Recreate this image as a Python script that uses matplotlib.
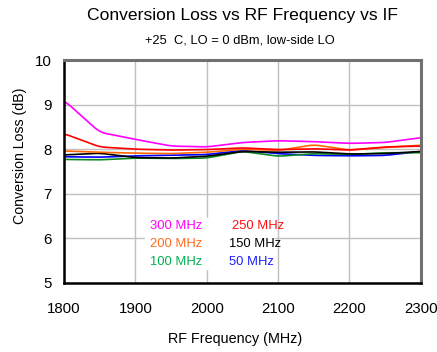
import numpy as np
import matplotlib
matplotlib.use('Agg')
import matplotlib.pyplot as plt

plt.rcParams['font.family'] = ['Liberation Sans', 'DejaVu Sans']

# RF frequency points (MHz)
rf_freq = [1800, 1850, 1900, 1950, 2000, 2050, 2100, 2150, 2200, 2250, 2300]

# conversion loss (dB) per IF
loss_300 = [9.10, 8.38, 8.22, 8.07, 8.05, 8.15, 8.19, 8.17, 8.13, 8.15, 8.26]
loss_250 = [8.35, 8.05, 8.00, 7.98, 7.99, 8.03, 7.99, 8.01, 7.98, 8.05, 8.07]
loss_200 = [7.96, 7.93, 7.91, 7.90, 7.93, 8.00, 7.97, 8.10, 7.98, 8.04, 8.09]
loss_150 = [7.87, 7.91, 7.81, 7.80, 7.84, 7.95, 7.93, 7.94, 7.89, 7.90, 7.95]
loss_100 = [7.77, 7.76, 7.80, 7.79, 7.80, 7.95, 7.84, 7.90, 7.88, 7.92, 7.92]
loss_50 = [7.83, 7.82, 7.85, 7.86, 7.88, 7.97, 7.90, 7.86, 7.85, 7.86, 7.95]

series = [
    (loss_300, '#FF00FF', '300 MHz', '#FF00FF'),
    (loss_250, '#FF0000', '250 MHz', '#FF1010'),
    (loss_200, '#FF6600', '200 MHz', '#FF6A20'),
    (loss_150, '#000000', '150 MHz', '#000000'),
    (loss_100, '#108A20', '100 MHz', '#00B050'),
    (loss_50, '#0000FF', '50 MHz', '#2020FF'),
]

fig = plt.figure(figsize=(4.37, 3.52), dpi=100)
ax = fig.add_axes([0.1465, 0.197, 0.8165, 0.632])

# smooth curves through the read points
xs = np.linspace(rf_freq[0], rf_freq[-1], 300)
for vals, col, lab, tcol in series[::-1]:
    ys = np.interp(xs, rf_freq, vals)
    kernel = np.ones(11) / 11
    ys_s = np.convolve(np.pad(ys, 5, mode='edge'), kernel, mode='valid')
    ax.plot(xs, ys_s, color=col, linewidth=1.2)

ax.set_xlim(1800, 2300)
ax.set_ylim(5, 10)
ax.set_xticks([1800, 1900, 2000, 2100, 2200, 2300])
ax.set_yticks([5, 6, 7, 8, 9, 10])
ax.grid(True, color='#C0C0C0', linewidth=1)
ax.set_axisbelow(True)
ax.tick_params(length=0, labelsize=10.8)
ax.tick_params(axis='x', pad=14)
ax.tick_params(axis='y', pad=9)

for side in ['left', 'bottom']:
    ax.spines[side].set_linewidth(1.8)
    ax.spines[side].set_color('black')
for side in ['top', 'right']:
    ax.spines[side].set_linewidth(2.2)
    ax.spines[side].set_color('#707070')

ax.set_xlabel('RF Frequency (MHz)', fontsize=10.4)
ax.xaxis.set_label_coords(0.479, -0.222)
ax.set_ylabel('Conversion Loss (dB)', fontsize=10.2)
ax.yaxis.set_label_coords(-0.105, 0.571)

# legend text block with white background
ax.fill_between([1914, 2094], 5.3, 6.45, color='white', zorder=1.5)
label_x = [1920, 2031]
label_y = [6.28, 5.86, 5.47]
for i, (vals, col, lab, tcol) in enumerate(series):
    lx = label_x[i % 2] + (4 if lab == '250 MHz' else 0)
    ax.text(lx, label_y[i // 2], lab, color=tcol, fontsize=9.4,
            ha='left', va='center', zorder=3)

fig.text(0.555, 0.955, 'Conversion Loss vs RF Frequency vs IF', fontsize=12.6,
         ha='center', va='center')
fig.text(0.549, 0.886, '+25  C, LO = 0 dBm, low-side LO', fontsize=9.3,
         ha='center', va='center')

fig.savefig('out.png', dpi=100)
plt.close()
